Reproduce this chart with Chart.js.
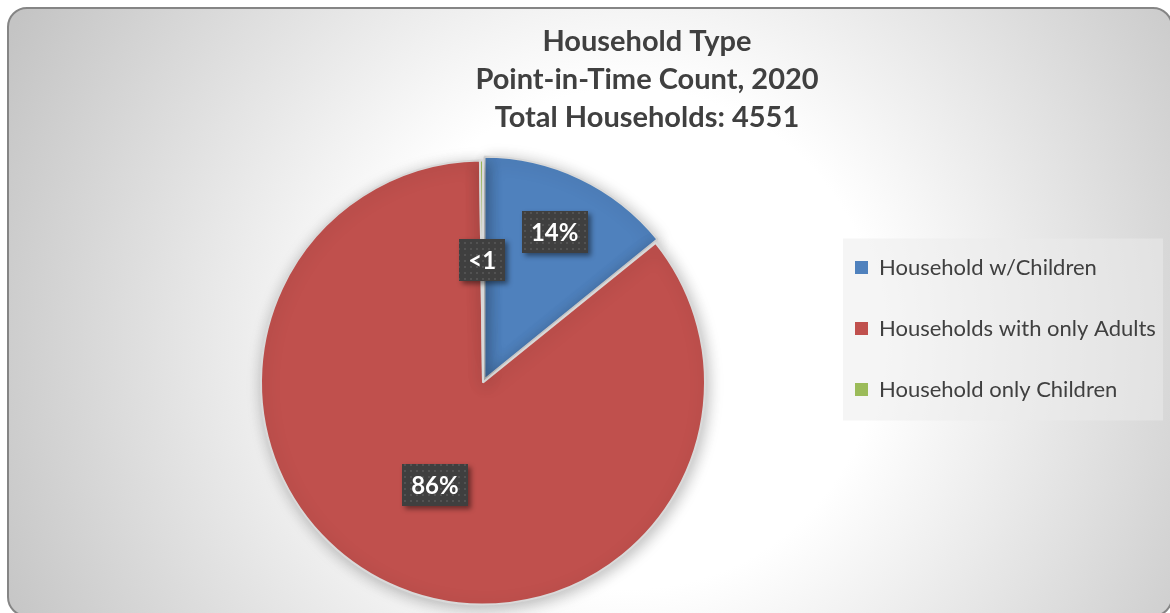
<!DOCTYPE html>
<html>
<head>
<meta charset="utf-8">
<script src="https://cdn.jsdelivr.net/npm/chart.js@4"></script>
<style>
  html, body { margin: 0; padding: 0; width: 1170px; height: 613px; overflow: hidden; background: #ffffff; }
  #frame {
    position: absolute; left: 7px; top: 7px; width: 1166px; height: 610px;
    box-sizing: border-box; border: 2px solid #858585; border-radius: 20px;
    background: radial-gradient(circle at 620px 330px, #ffffff 0px, #ffffff 250px, #c4c4c4 690px);
  }
  #c { position: absolute; left: 0; top: 0; }
</style>
</head>
<body>
<div id="frame"></div>
<canvas id="c" width="1170" height="613"></canvas>
<script>
// ---- data ----
const categories = ['Household w/Children', 'Households with only Adults', 'Household only Children'];
const households = [645, 3896, 10];
const seriesColors = ['#4f81bd', '#c0504d', '#9bbb59'];
const titleLines = ['Household Type', 'Point-in-Time Count, 2020', 'Total Households: 4551'];

// ---- label styling helpers ----
const total = households.reduce((a, b) => a + b, 0);
const labelTexts = households.map(v => {
  const p = Math.round(v / total * 100);
  return p < 1 ? '<1' : p + '%';
});
const labelRadius = [0.75, 0.51, 0.55];

const LEG_FONT = 22, LEG_BOX = 13, LEG_PAD = 39;
const TARGET = { titleX: 647, pieX: 483, legendBoxX: 855 };

function makePattern(ctx) {
  const pc = document.createElement('canvas');
  pc.width = 6; pc.height = 6;
  const p = pc.getContext('2d');
  p.fillStyle = '#3f3f3f'; p.fillRect(0, 0, 6, 6);
  p.fillStyle = '#525252'; p.fillRect(2, 2, 2, 2);
  return ctx.createPattern(pc, 'repeat');
}

function build() {
  const canvas = document.getElementById('c');
  const mctx = canvas.getContext('2d');
  mctx.save();
  mctx.font = 'normal ' + LEG_FONT + 'px Lato';
  const maxText = Math.max(...categories.map(t => mctx.measureText(t).width));
  mctx.restore();
  const legendW = LEG_PAD + LEG_BOX + LEG_FONT / 2 + maxText + 10;
  const legendLeft = TARGET.legendBoxX - LEG_PAD;
  const padRight = 1170 - legendLeft - legendW;
  const padLeft = 2 * TARGET.titleX - (1170 - padRight);

  const decor = {
    id: 'decor',
    beforeInit(chart) {
      Chart.layouts.addBox(chart, {
        position: 'left', weight: 100, fullSize: false,
        options: { display: false, stackWeight: 1 },
        left: 0, top: 0, right: 0, bottom: 0, width: 0, height: 0,
        isHorizontal() { return false; },
        update(maxWidth, maxHeight) {
          const lw = chart.legend ? chart.legend.width : legendW;
          const lgLeft = 1170 - padRight - lw;
          this.width = Math.max(0, 2 * TARGET.pieX - lgLeft - padLeft);
          this.height = maxHeight;
          return this.width;
        },
        getPadding() { return { left: 0, top: 0, right: 0, bottom: 0 }; },
        draw() {}
      });
    },
    beforeDraw(chart) {
      const lg = chart.legend;
      if (!lg || !lg.legendHitBoxes.length) return;
      const hb = lg.legendHitBoxes;
      const ctx = chart.ctx;
      const left = hb[0].left - 12;
      const top = hb[0].top - 18;
      const last = hb[hb.length - 1];
      const bottom = last.top + last.height + 20;
      ctx.save();
      ctx.fillStyle = 'rgba(235,235,235,0.5)';
      ctx.fillRect(left, top, 320, bottom - top);
      ctx.restore();
    },
    beforeDatasetsDraw(chart) {
      const ctx = chart.ctx;
      ctx.save();
      ctx.shadowColor = 'rgba(0,0,0,0.28)';
      ctx.shadowBlur = 16;
      ctx.shadowOffsetX = 2;
      ctx.shadowOffsetY = 3;
    },
    afterDatasetsDraw(chart) {
      const ctx = chart.ctx;
      ctx.restore();
      const meta = chart.getDatasetMeta(0);
      const pattern = makePattern(ctx);
      meta.data.forEach((arc, i) => {
        const pr = arc.getProps(['x', 'y', 'startAngle', 'endAngle', 'outerRadius'], true);
        const mid = (pr.startAngle + pr.endAngle) / 2;
        const r = labelRadius[i] * pr.outerRadius;
        const cx = pr.x + Math.cos(mid) * r;
        const cy = pr.y + Math.sin(mid) * r;
        ctx.save();
        ctx.font = 'bold 24px Lato';
        const tw = ctx.measureText(labelTexts[i]).width;
        const w = Math.round(tw + 18), h = 42;
        const bx = Math.round(cx - w / 2), by = Math.round(cy - h / 2);
        ctx.shadowColor = 'rgba(0,0,0,0.45)';
        ctx.shadowBlur = 5;
        ctx.shadowOffsetX = 3;
        ctx.shadowOffsetY = 3;
        ctx.fillStyle = '#3f3f3f';
        ctx.fillRect(bx, by, w, h);
        ctx.shadowColor = 'transparent';
        ctx.fillStyle = pattern;
        ctx.fillRect(bx, by, w, h);
        ctx.fillStyle = '#ffffff';
        ctx.textAlign = 'center';
        ctx.textBaseline = 'middle';
        ctx.fillText(labelTexts[i], cx, cy + 1);
        ctx.restore();
      });
    }
  };

  new Chart(canvas, {
    type: 'pie',
    data: {
      labels: categories,
      datasets: [{
        data: households,
        backgroundColor: seriesColors,
        borderColor: '#d9d9d9',
        borderWidth: 2,
        offset: [13, 0, 0],
        hoverOffset: 0
      }]
    },
    options: {
      responsive: false,
      animation: false,
      devicePixelRatio: 1,
      radius: 222,
      layout: { padding: { left: padLeft, right: padRight, top: 23, bottom: -21 } },
      events: [],
      plugins: {
        tooltip: { enabled: false },
        title: {
          display: true,
          text: titleLines,
          color: '#404040',
          font: { family: 'Lato', size: 29, weight: 'bold', lineHeight: 38 / 29 },
          padding: { top: 0, bottom: 15 }
        },
        legend: {
          display: true,
          position: 'right',
          labels: {
            color: '#404040',
            font: { family: 'Lato', size: LEG_FONT },
            boxWidth: LEG_BOX,
            boxHeight: LEG_BOX,
            padding: LEG_PAD,
            generateLabels(chart) {
              const base = Chart.overrides.pie.plugins.legend.labels.generateLabels(chart);
              return base.map(l => Object.assign({}, l, { lineWidth: 0, strokeStyle: l.fillStyle }));
            }
          }
        }
      }
    },
    plugins: [decor]
  });
}

const fontsReady = (document.fonts && document.fonts.load)
  ? Promise.all([
      document.fonts.load('22px Lato'),
      document.fonts.load('bold 29px Lato'),
      document.fonts.load('bold 24px Lato')
    ])
  : Promise.resolve();
fontsReady.then(build, build);
</script>
</body>
</html>
